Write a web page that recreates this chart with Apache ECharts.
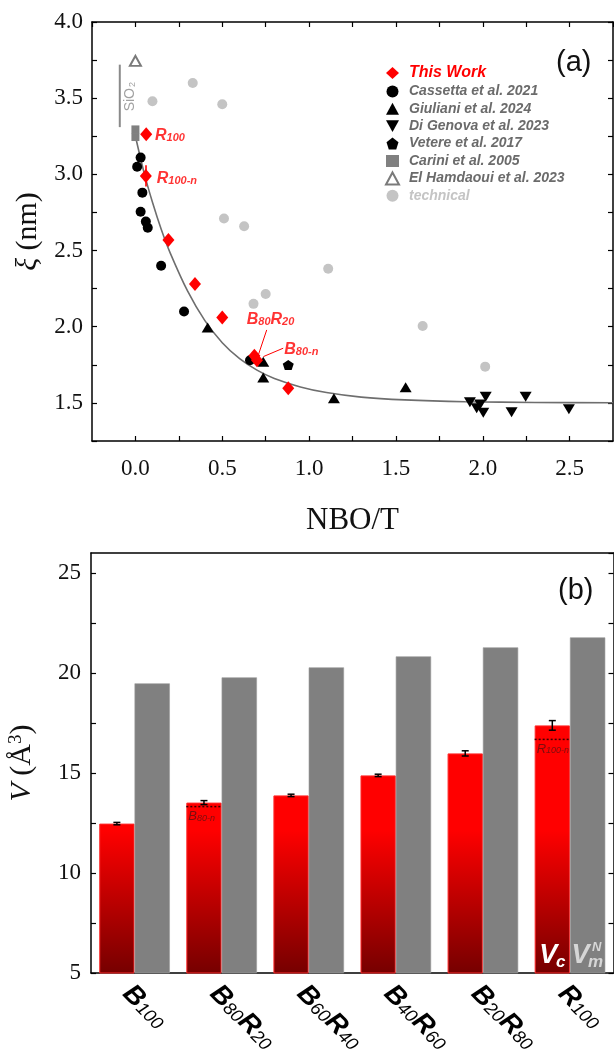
<!DOCTYPE html>
<html><head><meta charset="utf-8">
<script src="https://cdn.jsdelivr.net/npm/echarts/dist/echarts.min.js"></script>
<style>html,body{margin:0;padding:0;background:#fff}#c{width:614px;height:1051px}</style>
</head><body><div id="c"></div>
<script>
// ---------- panel (a) data: [NBO/T, xi (nm)] ----------
const thisWork   = [[0.062,3.263],[0.06,2.99],[0.19,2.57],[0.343,2.28],[0.50,2.06],[0.685,1.81],[0.70,1.78],[0.88,1.596]];
const cassetta   = [[0.03,3.11],[0.01,3.05],[0.04,2.88],[0.03,2.755],[0.06,2.69],[0.071,2.65],[0.148,2.40],[0.28,2.10],[0.66,1.78]];
const giuliani   = [[0.416,1.995],[0.736,1.77],[0.736,1.666],[1.143,1.53],[1.556,1.603]];
const diGenova   = [[1.926,1.504],[1.965,1.465],[1.985,1.49],[2.003,1.436],[2.017,1.541],[2.166,1.439],[2.247,1.541],[2.496,1.459]];
const vetere     = [[0.88,1.749]];
const carini     = [[0.0,3.295],[0.0,3.245]];
const elHamdaoui = [[0.0,3.745]];
const technical  = [[0.098,3.48],[0.33,3.60],[0.50,3.46],[0.51,2.71],[0.626,2.66],[0.68,2.15],[0.75,2.215],[1.11,2.38],[1.654,2.005],[2.014,1.738]];
const fitCurve   = [[0,3.25],[0.05,3.01],[0.1,2.81],[0.15,2.635],[0.2,2.485],[0.3,2.235],[0.4,2.04],[0.5,1.895],[0.6,1.79],[0.7,1.715],[0.8,1.66],[0.95,1.605],[1.1,1.568],[1.3,1.538],[1.55,1.52],[1.9,1.508],[2.3,1.503],[2.75,1.501]];
const sio2Range  = [[-0.09,3.31],[-0.09,3.72]];
const r100nErr   = [[0.06,2.92],[0.06,3.06]];
// annotations: [x, y, text]
const annotA = [[0.113,3.255,'R|100'],[0.123,2.975,'R|100-n'],[0.641,2.045,'B|80|R|20'],[0.857,1.848,'B|80-n']];
const arrowsA = [[[0.756,1.979],[0.708,1.815]],[[0.851,1.859],[0.737,1.804]]];
const xTicksA = {min:-0.25, max:2.75, step:0.25};
const yTicksA = {min:1.25, max:4.0, step:0.25};

// ---------- panel (b) data ----------
const categories = ['B100','B80R20','B60R40','B40R60','B20R80','R100'];
const vc    = [12.47, 13.52, 13.88, 14.88, 15.98, 17.38];
const vcErr = [0.06, 0.10, 0.06, 0.06, 0.13, 0.24];
const vmN   = [19.48, 19.78, 20.28, 20.83, 21.28, 21.78];
const nRefs = [[1, 13.32, 'B|80-n'], [5, 16.68, 'R|100-n']];
const yTicksB = {min:5, max:26, step:2.5};

const SANS = 'Liberation Sans', SERIF = 'Liberation Serif';
const BAR_W = 35.3;
const RED = '#ff0000';

function subRich(spec){ // 'R|100' -> rich string alternating main/sub
  return spec.split('|').map((t,i)=> i%2===0 ? '{m|'+t+'}' : '{s|'+t+'}').join('');
}
const fmtHalf = v => Math.abs(v*2 - Math.round(v*2)) < 1e-6 ? v.toFixed(1) : '';
const fmtFive = v => Math.abs(v/5 - Math.round(v/5)) < 1e-6 ? String(v) : '';

const axisLineBlack = {show:true, onZero:false, lineStyle:{color:'#000', width:1.5}};
const tickIn = {show:true, inside:true, length:5, lineStyle:{color:'#000', width:1.2}};

const chart = echarts.init(document.getElementById('c'), null, {renderer:'canvas'});

const scatterBase = (name, data, symbol, size, color, z) => ({
  name, type:'scatter', xAxisIndex:0, yAxisIndex:0, data, symbol, symbolSize:size,
  itemStyle:{color, opacity:1}, z: z||3, emphasis:{disabled:true}
});

const redGrad = new echarts.graphic.LinearGradient(0, 553, 0, 973, [
  {offset:0, color:'#ff0000'}, {offset:0.66, color:'#ff0000'}, {offset:1, color:'#760000'}
], true);

const legendNames = ['This Work','Cassetta et al. 2021','Giuliani et al. 2024','Di Genova et al. 2023','Vetere et al. 2017','Carini et al. 2005','El Hamdaoui et al. 2023','technical'];
const legText = (color, size) => ({color, fontSize:size, fontWeight:'bold', fontStyle:'italic', fontFamily:SANS, lineHeight:12, padding:[0,0,0,5]});

const option = {
  animation:false,
  backgroundColor:'#fff',
  grid:[
    {left:92, top:22, width:521, height:419, outerBoundsMode:'none', containLabel:false},
    {left:91, top:553, width:522.5, height:420, outerBoundsMode:'none', containLabel:false}
  ],
  legend:{
    left:380, top:60, orient:'vertical', itemWidth:13, itemHeight:12, itemGap:3.4,
    selectedMode:false,
    textStyle:legText('#6b6b6b', 14),
    data: legendNames.map(n => {
      if (n==='This Work') return {name:n, textStyle:legText(RED, 16)};
      if (n==='technical') return {name:n, textStyle:legText('#c4c4c4', 14)};
      return {name:n};
    })
  },
  graphic:[
    {type:'text', left:556, top:48, style:{text:'(a)', fontFamily:SANS, fontSize:29, fill:'#111'}},
    {type:'text', left:558, top:576, style:{text:'(b)', fontFamily:SANS, fontSize:29, fill:'#111'}}
  ],
  xAxis:[
    {gridIndex:0, type:'value', position:'bottom', min:xTicksA.min, max:xTicksA.max, interval:xTicksA.step,
     axisLine:axisLineBlack, axisTick:tickIn, splitLine:{show:false},
     axisLabel:{formatter:fmtHalf, fontFamily:SERIF, fontSize:23, color:'#111', margin:16, showMinLabel:false, showMaxLabel:false},
     name:'NBO/T', nameLocation:'middle', nameGap:64, nameTextStyle:{fontFamily:SERIF, fontSize:31, color:'#111'}},
    {gridIndex:0, type:'value', position:'top', min:xTicksA.min, max:xTicksA.max, interval:xTicksA.step,
     axisLine:axisLineBlack, axisTick:tickIn, axisLabel:{show:false}, splitLine:{show:false}},
    {gridIndex:1, type:'category', position:'bottom', data:categories, boundaryGap:true,
     axisLine:axisLineBlack, axisTick:{show:false},
     axisLabel:{interval:0, rotate:-45, margin:9, padding:[20,0,0,0],
       formatter: v => v.replace(/([A-Z])(\d+)/g, '{b|$1}{s|$2}'),
       rich:{
         b:{fontFamily:SANS, fontSize:27, fontWeight:'bold', fontStyle:'italic', color:'#000', lineHeight:26, verticalAlign:'top'},
         s:{fontFamily:SANS, fontSize:18, fontStyle:'italic', color:'#000', lineHeight:18, padding:[13,0,0,0], verticalAlign:'bottom'}
       }}},
    {gridIndex:1, type:'category', position:'top', data:categories, boundaryGap:true,
     axisLine:axisLineBlack, axisTick:{show:false}, axisLabel:{show:false}}
  ],
  yAxis:[
    {gridIndex:0, type:'value', position:'left', min:yTicksA.min, max:yTicksA.max, interval:yTicksA.step,
     axisLine:axisLineBlack, axisTick:tickIn, splitLine:{show:false},
     axisLabel:{formatter:fmtHalf, fontFamily:SERIF, fontSize:23, color:'#111', margin:9},
     name:'{i|ξ} (nm)', nameLocation:'middle', nameGap:46,
     nameTextStyle:{fontFamily:SERIF, fontSize:30, color:'#111', rich:{i:{fontFamily:SERIF, fontSize:30, fontStyle:'italic', color:'#111'}}}},
    {gridIndex:0, type:'value', position:'right', min:yTicksA.min, max:yTicksA.max, interval:yTicksA.step,
     axisLine:axisLineBlack, axisTick:tickIn, axisLabel:{show:false}, splitLine:{show:false}},
    {gridIndex:1, type:'value', position:'left', min:yTicksB.min, max:yTicksB.max, interval:yTicksB.step,
     axisLine:axisLineBlack, axisTick:tickIn, splitLine:{show:false},
     axisLabel:{formatter:fmtFive, fontFamily:SERIF, fontSize:23, color:'#111', margin:10, showMaxLabel:false},
     name:'{i|V} (Å{sup|3})', nameLocation:'middle', nameGap:54,
     nameTextStyle:{fontFamily:SERIF, fontSize:30, color:'#111', rich:{
       i:{fontFamily:SERIF, fontSize:30, fontStyle:'italic', color:'#111'},
       sup:{fontFamily:SERIF, fontSize:19, color:'#111', verticalAlign:'top', lineHeight:30, padding:[0,0,10,0]}}}},
    {gridIndex:1, type:'value', position:'right', min:yTicksB.min, max:yTicksB.max, interval:yTicksB.step,
     axisLine:axisLineBlack, axisTick:tickIn, axisLabel:{show:false}, splitLine:{show:false}}
  ],
  series:[
    // fitted curve
    {type:'line', xAxisIndex:0, yAxisIndex:0, data:fitCurve, smooth:0.3, showSymbol:false, symbol:'none',
     lineStyle:{color:'#6e6e6e', width:1.6}, z:1, silent:true},
    // SiO2 bar
    {type:'line', xAxisIndex:0, yAxisIndex:0, data:sio2Range, showSymbol:false, symbol:'none',
     lineStyle:{color:'#8a8a8a', width:2}, z:1, silent:true},
    // SiO2 label
    {type:'scatter', xAxisIndex:0, yAxisIndex:0, data:[[-0.03,3.51]], symbolSize:0, silent:true, z:4,
     label:{show:true, position:'inside', rotate:90, formatter:'{m|SiO}{s|2}',
       rich:{m:{fontFamily:SANS, fontSize:14, color:'#8a8a8a', lineHeight:14, verticalAlign:'top'},
             s:{fontFamily:SANS, fontSize:9, color:'#8a8a8a', lineHeight:9, padding:[8,0,0,1], verticalAlign:'bottom'}}}},
    scatterBase('technical', technical, 'circle', 10, '#c4c4c4', 2),
    scatterBase('El Hamdaoui et al. 2023', elHamdaoui, 'emptyTriangle', [11,10], '#7a7a7a', 3),
    scatterBase('Carini et al. 2005', carini, 'rect', 8, '#808080', 3),
    scatterBase('Cassetta et al. 2021', cassetta, 'circle', 10, '#000', 3),
    scatterBase('Giuliani et al. 2024', giuliani, 'triangle', [12,10], '#000', 3),
    scatterBase('Di Genova et al. 2023', diGenova, 'path://M0,0L10,0L5,9Z', [12,10], '#000', 3),
    scatterBase('Vetere et al. 2017', vetere, 'path://M5,0L10,3.8L8.1,10L1.9,10L0,3.8Z', [11,10], '#000', 3),
    // error bar + arrows for This Work
    {type:'lines', coordinateSystem:'cartesian2d', xAxisIndex:0, yAxisIndex:0, silent:true, z:4,
     data:[{coords:r100nErr, lineStyle:{width:1.6}}].concat(arrowsA.map(a => ({coords:a}))),
     lineStyle:{color:RED, width:1, opacity:1}},
    scatterBase('This Work', thisWork, 'diamond', [12,14], RED, 5),
    // annotations
    {type:'scatter', xAxisIndex:0, yAxisIndex:0, symbolSize:0, silent:true, z:6,
     data: annotA.map(a => ({value:[a[0],a[1]], label:{formatter: subRich(a[2])}})),
     label:{show:true, position:'right', distance:0,
       rich:{m:{fontFamily:SANS, fontSize:16, fontWeight:'bold', fontStyle:'italic', color:RED, lineHeight:16, verticalAlign:'top'},
             s:{fontFamily:SANS, fontSize:11, fontWeight:'bold', fontStyle:'italic', color:RED, lineHeight:11, padding:[9,0,0,0], verticalAlign:'bottom'}}}},

    // ---------- panel (b) ----------
    {name:'Vc', type:'bar', xAxisIndex:2, yAxisIndex:2, data:vc, barWidth:BAR_W, barGap:'0%',
     itemStyle:{color:redGrad, borderColor:'#ff2a2a', borderWidth:1}, z:2, silent:true},
    {name:'VmN', type:'bar', xAxisIndex:2, yAxisIndex:2, data:vmN, barWidth:BAR_W, barGap:'0%',
     itemStyle:{color:'#808080', borderColor:'#9a9a9a', borderWidth:0.6}, z:2, silent:true},
    // error bars
    {type:'custom', xAxisIndex:2, yAxisIndex:2, silent:true, z:5,
     data: vc.map((v,i)=>[i, v, vcErr[i]]),
     renderItem:(p, api)=>{
       const i = api.value(0), v = api.value(1), e = api.value(2);
       const hi = api.coord([i, v+e]), lo = api.coord([i, v-e]);
       const x = hi[0] - BAR_W/2, cap = 3.5;
       const st = {stroke:'#000', lineWidth:1.5};
       return {type:'group', children:[
         {type:'line', shape:{x1:x, y1:hi[1], x2:x, y2:lo[1]}, style:st},
         {type:'line', shape:{x1:x-cap, y1:hi[1], x2:x+cap, y2:hi[1]}, style:st},
         {type:'line', shape:{x1:x-cap, y1:lo[1], x2:x+cap, y2:lo[1]}, style:st}
       ]};
     }},
    // -n reference dotted lines
    {type:'custom', xAxisIndex:2, yAxisIndex:2, silent:true, z:5,
     data: nRefs.map(r=>[r[0], r[1]]),
     renderItem:(p, api)=>{
       const c = api.coord([api.value(0), api.value(1)]);
       const spec = nRefs[p.dataIndex][2];
       return {type:'group', children:[
         {type:'line', shape:{x1:c[0]-BAR_W, y1:c[1], x2:c[0], y2:c[1]}, style:{stroke:'#3a0000', lineWidth:1.5, lineDash:[2,2]}},
         {type:'text', x:c[0]-BAR_W+2, y:c[1]+3, style:{text:subRich(spec), align:'left', verticalAlign:'top',
           rich:{m:{fontFamily:SANS, fontSize:13, fontStyle:'italic', fill:'#7a0e0e', lineHeight:13, verticalAlign:'top'},
                 s:{fontFamily:SANS, fontSize:9, fontStyle:'italic', fill:'#7a0e0e', lineHeight:9, padding:[7,0,0,0], verticalAlign:'bottom'}}}}
       ]};
     }},
    // V_c and V_m^N labels
    {type:'custom', xAxisIndex:2, yAxisIndex:2, silent:true, z:6,
     data:[[5, 5.85]],
     renderItem:(p, api)=>{
       const c = api.coord([api.value(0), api.value(1)]);
       const f = {fontFamily:SANS, fontWeight:'bold', fontStyle:'italic'};
       return {type:'group', children:[
         {type:'text', x:c[0]-BAR_W/2-4, y:c[1], style:Object.assign({text:'V', fontSize:27, fill:'#fff', align:'center', verticalAlign:'middle'}, f)},
         {type:'text', x:c[0]-BAR_W/2+8.5, y:c[1]+6, style:Object.assign({text:'c', fontSize:17, fill:'#fff', align:'center', verticalAlign:'middle'}, f)},
         {type:'text', x:c[0]+BAR_W/2-7, y:c[1], style:Object.assign({text:'V', fontSize:27, fill:'#d6d6d6', align:'center', verticalAlign:'middle'}, f)},
         {type:'text', x:c[0]+BAR_W/2+9, y:c[1]-9, style:Object.assign({text:'N', fontSize:13, fill:'#d6d6d6', align:'center', verticalAlign:'middle'}, f)},
         {type:'text', x:c[0]+BAR_W/2+8, y:c[1]+6, style:Object.assign({text:'m', fontSize:17, fill:'#d6d6d6', align:'center', verticalAlign:'middle'}, f)}
       ]};
     }}
  ]
};
chart.setOption(option);
</script>
</body></html>
